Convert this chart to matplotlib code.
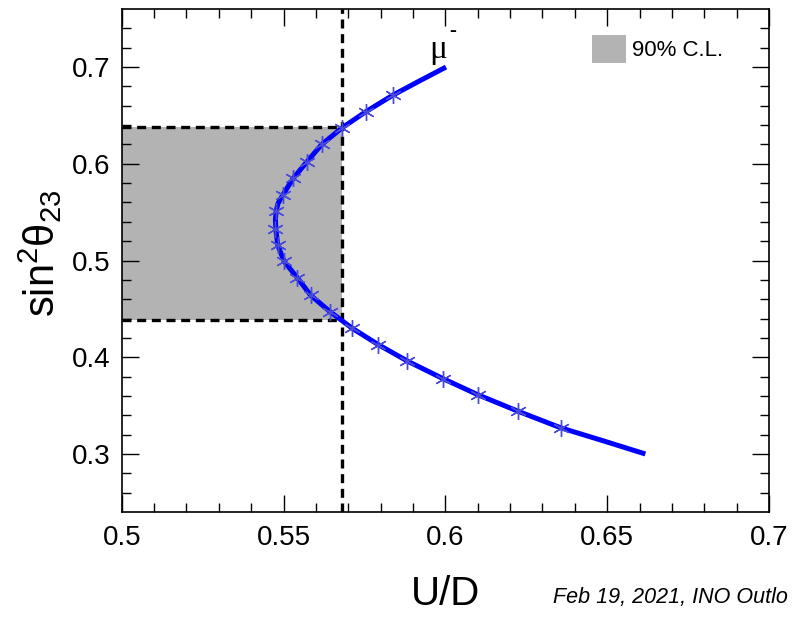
import numpy as np
import matplotlib
matplotlib.use('Agg')
import matplotlib.pyplot as plt
from matplotlib.patches import Rectangle

plt.rcParams['font.family'] = ['Liberation Sans', 'DejaVu Sans']
plt.rcParams['mathtext.fontset'] = 'custom'
plt.rcParams['mathtext.rm'] = 'Liberation Sans'
plt.rcParams['mathtext.it'] = 'Liberation Sans'

# simulated points (mu-)
ud_pts = [0.5838, 0.5755, 0.5680, 0.5618, 0.5572, 0.5530, 0.5498, 0.5477, 0.5475,
          0.5482, 0.5502, 0.5543, 0.5584, 0.5644, 0.5712, 0.5793, 0.5883, 0.5992,
          0.6102, 0.6226, 0.6357]
s23_pts = [0.671, 0.654, 0.637, 0.620, 0.602, 0.585, 0.568, 0.551, 0.533,
           0.516, 0.499, 0.482, 0.464, 0.447, 0.430, 0.413, 0.396, 0.378,
           0.361, 0.344, 0.327]

# fitted curve
fit_ud = [0.6002, 0.5922, 0.5838, 0.5755, 0.5680, 0.5618, 0.5572, 0.5530, 0.5498,
          0.5483, 0.5477, 0.5475, 0.5476, 0.5482, 0.5502, 0.5543, 0.5584, 0.5644,
          0.5712, 0.5793, 0.5883, 0.5992, 0.6102, 0.6226, 0.6357, 0.6488, 0.6618]
fit_s23 = [0.700, 0.686, 0.671, 0.654, 0.637, 0.620, 0.602, 0.585, 0.568,
           0.559, 0.551, 0.542, 0.533, 0.516, 0.499, 0.482, 0.464, 0.447,
           0.430, 0.413, 0.396, 0.378, 0.361, 0.344, 0.327, 0.3136, 0.300]

# 90% C.L. band
ud_cut = 0.568
s23_lo, s23_hi = 0.439, 0.638

W, H = 793, 618
fig = plt.figure(figsize=(W / 100, H / 100), dpi=100)
ax = fig.add_axes([0.1535, 0.1715, 0.8162, 0.8139])

dash = (0, (2.7, 1.7))
ax.add_patch(Rectangle((0.5, s23_lo), ud_cut - 0.5, s23_hi - s23_lo,
                       facecolor='#b3b3b3', edgecolor='none', zorder=1))
ax.axvline(ud_cut, color='black', lw=2.4, ls=dash, zorder=2)
ax.plot([0.5, ud_cut], [s23_hi, s23_hi], color='black', lw=2.4, ls=dash, zorder=2)
ax.plot([0.5, ud_cut], [s23_lo, s23_lo], color='black', lw=2.4, ls=dash, zorder=2)

ax.plot(fit_ud, fit_s23, color='#0000ff', lw=3.6, solid_capstyle='butt',
        solid_joinstyle='round', zorder=3)
ax.plot(ud_pts, s23_pts, ls='none', marker=(6, 2, 0), ms=12, mew=1.0,
        color='#4a4ad8', zorder=4)

ax.set_xlim(0.5, 0.7)
ax.set_ylim(0.24, 0.76)
ax.set_xticks([0.5, 0.55, 0.6, 0.65, 0.7])
ax.set_xticklabels(['0.5', '0.55', '0.6', '0.65', '0.7'])
ax.set_xticks(np.arange(0.51, 0.70, 0.01), minor=True)
ax.set_yticks([0.3, 0.4, 0.5, 0.6, 0.7])
ax.set_yticks(np.arange(0.26, 0.76, 0.02), minor=True)
ax.tick_params(which='both', direction='in', top=True, right=True, width=1.0,
               labelsize=20)
ax.tick_params(which='major', length=12)
ax.tick_params(which='minor', length=6.5)
ax.tick_params(axis='x', pad=9)
ax.tick_params(axis='y', pad=8)
for sp in ax.spines.values():
    sp.set_linewidth(1.2)

# legend
fig.add_artist(Rectangle((592 / W, 1 - 63 / H), 34 / W, 28 / H,
                         transform=fig.transFigure, facecolor='#b3b3b3',
                         edgecolor='none'))
fig.text(632 / W, 1 - 50 / H, '90% C.L.', fontsize=16, va='center', ha='left')

# mu- label
fig.text(438 / W, 1 - 50 / H, 'μ', fontsize=24, family='Liberation Serif',
         ha='center', va='center')
fig.text(453 / W, 1 - 31 / H, '-', fontsize=15, family='Liberation Serif',
         ha='center', va='center')

fig.text(40 / W, 1 - 253 / H, 'sin$^{2}$θ$_{23}$', fontsize=30, rotation=90,
         ha='center', va='center')
fig.text(446 / W, 1 - 594 / H, 'U/D', fontsize=29, ha='center', va='center')
# footer, only the part visible in the slide crop
fig.text(553 / W, 1 - 598 / H, 'Feb 19, 2021, INO Outlo', fontsize=15.5,
         style='italic', ha='left', va='center')

fig.savefig('out.png', dpi=100)
